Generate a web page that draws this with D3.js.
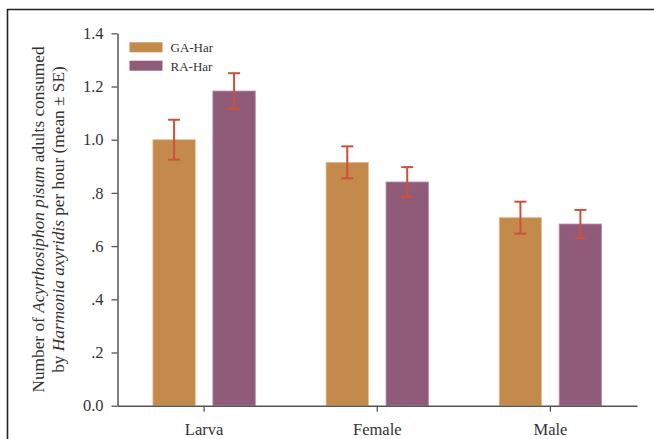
<!DOCTYPE html>
<html><head><meta charset="utf-8">
<script src="https://cdn.jsdelivr.net/npm/d3@7"></script>
<style>
html,body{margin:0;padding:0;background:#fff;}
svg{display:block;font-family:"Liberation Serif","Times New Roman",serif;}
</style></head>
<body>
<svg id="chart" width="654" height="439"></svg>
<script>
const categories = ["Larva", "Female", "Male"];
const seriesNames = ["GA-Har", "RA-Har"];
const gaMeans = [1.00, 0.915, 0.707];
const gaSE    = [0.075, 0.060, 0.060];
const raMeans = [1.183, 0.841, 0.683];
const raSE    = [0.067, 0.056, 0.053];
const yTickValues = [0, 0.2, 0.4, 0.6, 0.8, 1.0, 1.2, 1.4];
const yTickLabels = ["0.0", ".2", ".4", ".6", ".8", "1.0", "1.2", "1.4"];
const colors = ["#c48a4b", "#8f5b78"];
const edgeColors = ["#e9bf92", "#b88ca8"];
const errColor = "#cf4f3c";

(function () {
const svg = d3.select("#chart");
const pLeft = 117.5, pRight = 637, pTop = 33.3, pBottom = 405.7;
const serif = "'Liberation Serif', 'Times New Roman', serif";

const x = d3.scaleBand().domain(categories).range([pLeft, pRight]).padding(0);
const sub = d3.scaleBand().domain(seriesNames).range([0, x.bandwidth()]).paddingInner(0.293).paddingOuter(0.59);
const y = d3.scaleLinear().domain([0, 1.4]).range([pBottom, pTop]);

// frame
svg.append("path").attr("d", `M7.5,439 L7.5,9.5 L654,9.5`).attr("fill", "none").attr("stroke", "#222").attr("stroke-width", 1.6);

const data = [];
categories.forEach((c, i) => {
  data.push({cat: c, s: 0, m: gaMeans[i], se: gaSE[i]});
  data.push({cat: c, s: 1, m: raMeans[i], se: raSE[i]});
});

// bars
svg.append("g").selectAll("rect").data(data).join("rect")
  .attr("x", d => x(d.cat) + sub(seriesNames[d.s]))
  .attr("width", sub.bandwidth())
  .attr("y", d => y(d.m))
  .attr("height", d => y(0) - y(d.m))
  .attr("fill", d => colors[d.s])
  .attr("stroke", d => edgeColors[d.s])
  .attr("stroke-width", 0.8);

// error bars
const eg = svg.append("g").attr("stroke", errColor).attr("stroke-width", 2);
data.forEach(d => {
  const cx = x(d.cat) + sub(seriesNames[d.s]) + sub.bandwidth() / 2;
  eg.append("line").attr("x1", cx).attr("x2", cx).attr("y1", y(d.m + d.se)).attr("y2", y(d.m - d.se));
  [d.m + d.se, d.m - d.se].forEach(v => {
    eg.append("line").attr("x1", cx - 6).attr("x2", cx + 6).attr("y1", y(v)).attr("y2", y(v));
  });
});

// y axis
const yAxis = d3.axisLeft(y).tickValues(yTickValues).tickFormat((d, i) => yTickLabels[i]).tickSize(6).tickSizeOuter(0).tickPadding(8);
const yg = svg.append("g").attr("transform", `translate(${pLeft},0)`).call(yAxis).attr("font-family", serif);
yg.select(".domain").attr("stroke", "#555").attr("stroke-width", 1.5);
yg.selectAll(".tick line").attr("stroke", "#555").attr("stroke-width", 1.3);
yg.selectAll(".tick text").attr("font-size", 16.5).attr("fill", "#333");

// x axis
const xAxis = d3.axisBottom(x).tickSize(6).tickSizeOuter(0).tickPadding(12);
const xg = svg.append("g").attr("transform", `translate(0,${pBottom})`).call(xAxis).attr("font-family", serif);
xg.select(".domain").attr("stroke", "#555").attr("stroke-width", 1.5);
xg.selectAll(".tick line").attr("stroke", "#555").attr("stroke-width", 1.3);
xg.selectAll(".tick text").attr("font-size", 16.5).attr("fill", "#333");

// legend
const lg = svg.append("g").attr("font-family", serif);
seriesNames.forEach((s, i) => {
  lg.append("rect").attr("x", 129.5).attr("y", 42.3 + i * 18.4).attr("width", 33).attr("height", 10).attr("fill", colors[i]);
  lg.append("text").attr("x", 170.5).attr("y", 52.3 + i * 18.4).attr("font-size", 13).attr("fill", "#333").text(s);
});

// y title
const cy = (pTop + pBottom) / 2;
const t1 = svg.append("text").attr("transform", `translate(44,${cy}) rotate(-90)`).attr("text-anchor", "middle").attr("font-size", 17.3).attr("font-family", serif).attr("fill", "#333");
t1.append("tspan").text("Number of ");
t1.append("tspan").attr("font-style", "italic").text("Acyrthosiphon pisum");
t1.append("tspan").text(" adults consumed");
const t2 = svg.append("text").attr("transform", `translate(64,${cy}) rotate(-90)`).attr("text-anchor", "middle").attr("font-size", 17.3).attr("font-family", serif).attr("fill", "#333");
t2.append("tspan").text("by ");
t2.append("tspan").attr("font-style", "italic").text("Harmonia axyridis");
t2.append("tspan").text(" per hour (mean ± SE)");
})();
</script>
</body></html>
